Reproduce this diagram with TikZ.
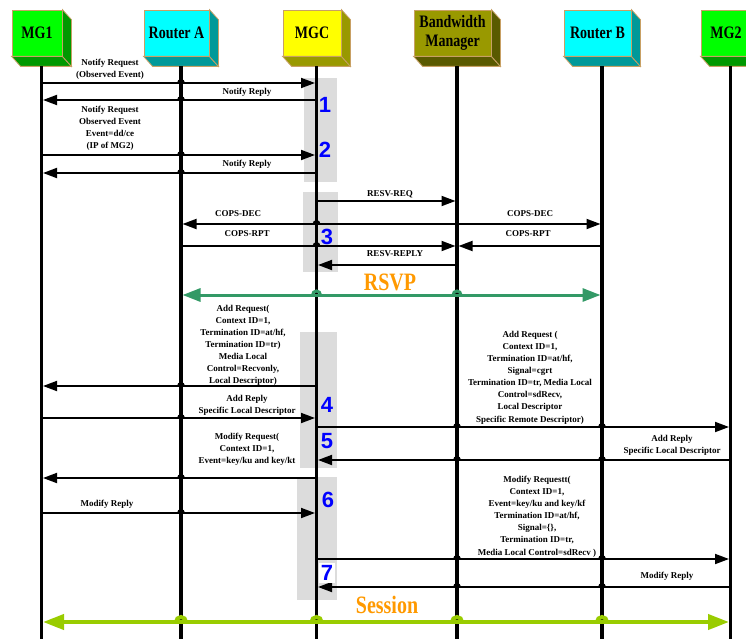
\documentclass[tikz,border=0pt]{standalone}
\usepackage{graphicx}
\usepackage{fontspec}
\setmainfont{Liberation Serif}
\newfontfamily\numfont{Liberation Sans}
\usetikzlibrary{arrows.meta,calc}

\definecolor{boxedge}{RGB}{200,160,100}
\definecolor{mgfront}{RGB}{0,255,0}
\definecolor{mgside}{RGB}{0,153,0}
\definecolor{rtfront}{RGB}{0,255,255}
\definecolor{rtside}{RGB}{0,153,153}
\definecolor{mgcfront}{RGB}{255,255,0}
\definecolor{mgcside}{RGB}{153,153,0}
\definecolor{bmfront}{RGB}{153,153,0}
\definecolor{bmside}{RGB}{90,90,0}
\definecolor{rsvpgreen}{RGB}{51,153,102}
\definecolor{sessgreen}{RGB}{153,204,0}
\definecolor{labelorange}{RGB}{255,153,0}
\definecolor{bandgray}{RGB}{220,220,220}

\tikzset{
  every node/.style={font=\bfseries\fontsize{9}{12.1}\selectfont, align=center, inner sep=0pt},
  entity/.style={draw=boxedge, line width=0.8pt, minimum height=46pt,
    font=\bfseries\fontsize{14}{19}\selectfont},
  lifeline/.style={line width=3.6pt},
  msg/.style={line width=1.8pt, -{Triangle[length=14pt,width=10pt]}, shorten >=1.5pt},
  hop/.style={line width=1.8pt},
  band/.style={fill=bandgray},
  stepnum/.style={font=\numfont\bfseries\fontsize{22}{22}\selectfont, text=blue},
  biglabel/.style={font=\bfseries\fontsize{20}{20}\selectfont, text=labelorange}
}

% 3D box with its lifeline
\newcommand{\entity}[6]{%
  \node[entity, fill=#5, minimum width=#3] (#1) at (#2,33) {#6};
  \filldraw[fill=#4, draw=boxedge, line width=0.8pt] (#1.south west) -- (#1.south east)
    -- ++(9,10) -- ($(#1.south west)+(9,10)$) -- cycle;
  \filldraw[fill=#4, draw=boxedge, line width=0.8pt] (#1.north east) -- ++(9,10)
    -- ($(#1.south east)+(9,10)$) -- (#1.south east) -- cycle;
  \coordinate (#1-top) at ($(#1.south)+(4.5,10)$);
  \coordinate (#1-end) at (#1-top |- 0,639);
}
\newcommand{\tall}[1]{\scalebox{1}[1.25]{#1}}

\begin{document}
\begin{tikzpicture}[x=1pt,y=-1pt]
\useasboundingbox (0,0) rectangle (746,639);

% gray bands behind MGC
\fill[band] (304,78) rectangle (337,182);
\fill[band] (303,192) rectangle (338,272);
\fill[band] (300,332) rectangle (337,468);
\fill[band] (297,477) rectangle (337,600);

\entity{mg1}{37}{50pt}{mgside}{mgfront}{\tall{MG1}}
\entity{ra}{176.5}{65pt}{rtside}{rtfront}{\tall{Router A}}
\entity{mgc}{312}{58pt}{mgcside}{mgcfront}{\tall{MGC}}
\entity{bm}{452.5}{77pt}{bmside}{bmfront}{\tall{Bandwidth}\\\tall{Manager}}
\entity{rb}{597.5}{67pt}{rtside}{rtfront}{\tall{Router B}}
\entity{mg2}{726}{50pt}{mgside}{mgfront}{\tall{MG2}}

\foreach \who in {mg1,ra,mgc,bm,rb,mg2}
  \draw[lifeline] (\who-top) -- (\who-end);

% messages
\draw[msg] (mg1-top |- 0,83) -- (mgc-top |- 0,83);
\draw[msg] (mgc-top |- 0,100) -- (mg1-top |- 0,100);
\draw[msg] (mg1-top |- 0,155) -- (mgc-top |- 0,155);
\draw[msg] (mgc-top |- 0,173) -- (mg1-top |- 0,173);
\draw[msg] (mgc-top |- 0,201) -- (bm-top |- 0,201);
\draw[msg] (bm-top |- 0,224) -- (ra-top |- 0,224);
\draw[msg] (bm-top |- 0,224) -- (rb-top |- 0,224);
\draw[msg] (ra-top |- 0,246) -- (bm-top |- 0,246);
\draw[msg] (rb-top |- 0,246) -- (bm-top |- 0,246);
\draw[msg] (bm-top |- 0,265) -- (mgc-top |- 0,265);
\draw[msg] (mgc-top |- 0,386) -- (mg1-top |- 0,386);
\draw[msg] (mg1-top |- 0,418) -- (mgc-top |- 0,418);
\draw[msg] (mgc-top |- 0,427) -- (mg2-top |- 0,427);
\draw[msg] (mg2-top |- 0,460) -- (mgc-top |- 0,460);
\draw[msg] (mgc-top |- 0,478) -- (mg1-top |- 0,478);
\draw[msg] (mg1-top |- 0,513) -- (mgc-top |- 0,513);
\draw[msg] (mgc-top |- 0,559) -- (mg2-top |- 0,559);
\draw[msg] (mg2-top |- 0,587) -- (mgc-top |- 0,587);

% RSVP and session
\draw[rsvpgreen, line width=3pt, {Triangle[length=18pt,width=13pt]}-{Triangle[length=18pt,width=13pt]}, shorten <=1.5pt, shorten >=1.5pt]
  (ra-top |- 0,295) -- (rb-top |- 0,295);
\draw[sessgreen, line width=4pt, {Triangle[length=21pt,width=15pt]}-{Triangle[length=21pt,width=15pt]}, shorten <=1.5pt, shorten >=1.5pt]
  (mg1-top |- 0,622) -- (mg2-top |- 0,622);

% hops over lifelines
\foreach \who/\hy in {ra/83,ra/100,ra/155,ra/173,mgc/224,mgc/246,ra/386,ra/418,bm/427,rb/427,
    bm/460,rb/460,ra/478,ra/513,bm/559,rb/559,bm/587,rb/587}
  \draw[hop] ($(\who-top |- 0,\hy)+(-3,0)$) arc[start angle=180,end angle=0,radius=3pt];
\foreach \who in {mgc,bm}
  \draw[hop, rsvpgreen, line width=3pt] ($(\who-top |- 0,295)+(-4,0)$) arc[start angle=180,end angle=0,radius=4pt];
\foreach \who in {ra,mgc,bm,rb}
  \draw[hop, sessgreen, line width=4pt] ($(\who-top |- 0,622)+(-5,0)$) arc[start angle=180,end angle=0,radius=5pt];

% labels
\node (nreq1) at (110,69) {Notify Request\\(Observed Event)};
\node (nrep1) at (247,92) {Notify Reply};
\node (nreq2) at (110,128.5) {Notify Request\\Observed Event\\Event=dd/ce\\(IP of MG2)};
\node (nrep2) at (247,164) {Notify Reply};
\node (resvreq) at (390,194) {RESV-REQ};
\node (copsdecA) at (238,214) {COPS-DEC};
\node (copsdecB) at (530,214) {COPS-DEC};
\node (copsrptA) at (247,234) {COPS-RPT};
\node (copsrptB) at (528,234) {COPS-RPT};
\node (resvrep) at (395,254) {RESV-REPLY};
\node[biglabel] (rsvp) at (390,282) {\tall{RSVP}};
\node (addreqA) at (243,345.5) {Add Request(\\Context ID=1,\\Termination ID=at/hf,\\Termination ID=tr)\\Media Local\\Control=Recvonly,\\Local Descriptor)};
\node (addrepA) at (247,405) {Add Reply\\Specific Local Descriptor};
\node (addreqB) at (530,377.5) {Add Request (\\Context ID=1,\\Termination ID=at/hf,\\Signal=cgrt\\Termination ID=tr, Media Local\\Control=sdRecv,\\Local Descriptor\\Specific Remote Descriptor)};
\node (addrepB) at (672,445.5) {Add Reply\\Specific Local Descriptor};
\node (modreqA) at (247,449.5) {Modify Request(\\Context ID=1,\\Event=key/ku and key/kt};
\node (modrepA) at (107,504) {Modify Reply};
\node (modreqB) at (537,516.5) {Modify Requestt(\\Context ID=1,\\Event=key/ku and key/kf\\Termination ID=at/hf,\\Signal=\{\},\\Termination ID=tr,\\Media Local Control=sdRecv )};
\node (modrepB) at (667,576) {Modify Reply};
\node[biglabel] (session) at (387,605) {\tall{Session}};

% step numbers
\node[stepnum] (n1) at (325,105) {1};
\node[stepnum] (n2) at (325,150) {2};
\node[stepnum] (n3) at (327,237) {3};
\node[stepnum] (n4) at (327,405) {4};
\node[stepnum] (n5) at (327,441) {5};
\node[stepnum] (n6) at (328,500) {6};
\node[stepnum, fill=white, inner sep=2pt] (n7) at (327,573) {7};
\end{tikzpicture}
\end{document}
